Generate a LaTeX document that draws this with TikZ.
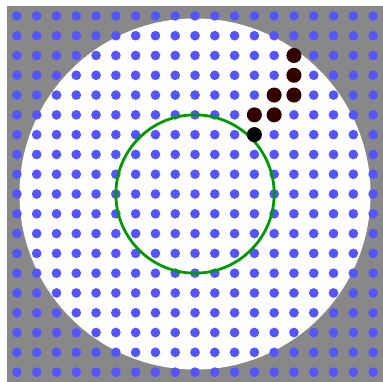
\documentclass[tikz,border=0pt]{standalone}
\usepackage{tikz}

\definecolor{fieldgray}{RGB}{136,136,136}
\definecolor{gridblue}{RGB}{85,85,255}
\definecolor{pathred}{RGB}{51,0,0}
\definecolor{ringgreen}{RGB}{0,155,0}

\begin{document}
\begin{tikzpicture}[x=0.5cm, y=0.5cm,
    griddot/.style={fill=gridblue},
    pathdot/.style={fill=pathred},
    ring/.style={draw=ringgreen, line width=2pt}]
  \useasboundingbox (-9.854,-9.5) rectangle (9.5,9.803);
  \fill[fieldgray] (-9.5,-9.5) rectangle (9.5,9.5);
  \fill[white] (0,0) circle (8.87);
  % lattice
  \foreach \i in {-9,...,9}
    \foreach \j in {-9,...,9}
      \fill[griddot] (\i,\j) circle (0.245);
  \draw[ring] (0,0) circle (4);
  % walk
  \foreach \p in {(5,7),(5,6),(4,5),(5,5),(3,4),(4,4)}
    \fill[pathdot] \p circle (0.38);
  \fill[black] (3,3) circle (0.38);
\end{tikzpicture}
\end{document}
